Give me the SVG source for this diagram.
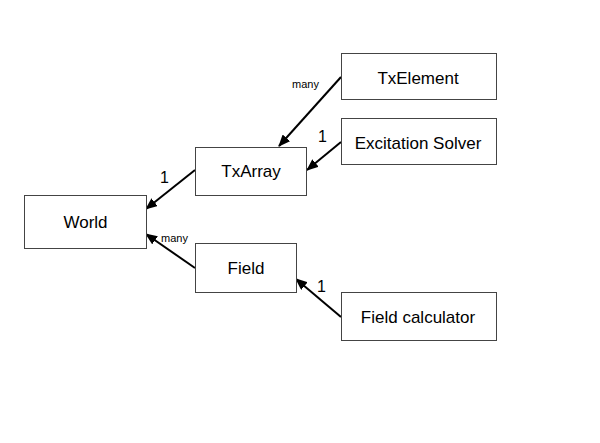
<svg xmlns="http://www.w3.org/2000/svg" width="600" height="443" viewBox="0 0 600 443">
<style>
.box{fill:#fff;stroke:#444;stroke-width:1}
.t{font-family:"Liberation Sans",Arial,sans-serif;font-size:17px;fill:#000;text-anchor:middle}
.lbl{font-family:"Liberation Sans",Arial,sans-serif;fill:#000}
.c{stroke:#000;stroke-width:2;fill:none;marker-end:url(#ah)}
</style>
<defs>
<marker id="ah" viewBox="0 0 12 10" refX="11" refY="5" markerWidth="12" markerHeight="10" markerUnits="userSpaceOnUse" orient="auto">
<path d="M0,0 L12,5 L0,10 Z" fill="#000"/>
</marker>
</defs>
<rect width="600" height="443" fill="#fff"/>
<g id="connectors">
<line class="c" x1="341" y1="77" x2="279" y2="146"/>
<line class="c" x1="341" y1="142" x2="307" y2="170"/>
<line class="c" x1="195" y1="170" x2="146" y2="209"/>
<line class="c" x1="195" y1="268" x2="146" y2="234"/>
<line class="c" x1="341" y1="317" x2="296" y2="279"/>
<text class="lbl" x="292" y="88" font-size="11">many</text>
<text class="lbl" x="318" y="142" font-size="16">1</text>
<text class="lbl" x="160" y="183" font-size="16">1</text>
<text class="lbl" x="161" y="242" font-size="11">many</text>
<text class="lbl" x="317" y="292" font-size="16">1</text>
</g>
<g id="txelement"><rect class="box" x="341.5" y="53.5" width="155" height="46"/><text class="t" x="418" y="84">TxElement</text></g>
<g id="excitation"><rect class="box" x="341.5" y="118.5" width="155" height="46"/><text class="t" x="418" y="148.5">Excitation Solver</text></g>
<g id="txarray"><rect class="box" x="195.5" y="147.5" width="111" height="48"/><text class="t" x="251" y="177">TxArray</text></g>
<g id="world"><rect class="box" x="24.5" y="195.5" width="122" height="53"/><text class="t" x="85.5" y="228">World</text></g>
<g id="field"><rect class="box" x="195.5" y="243.5" width="101" height="49"/><text class="t" x="246" y="274">Field</text></g>
<g id="fieldcalc"><rect class="box" x="341.5" y="292.5" width="155" height="48"/><text class="t" x="418" y="323">Field calculator</text></g>
</svg>
